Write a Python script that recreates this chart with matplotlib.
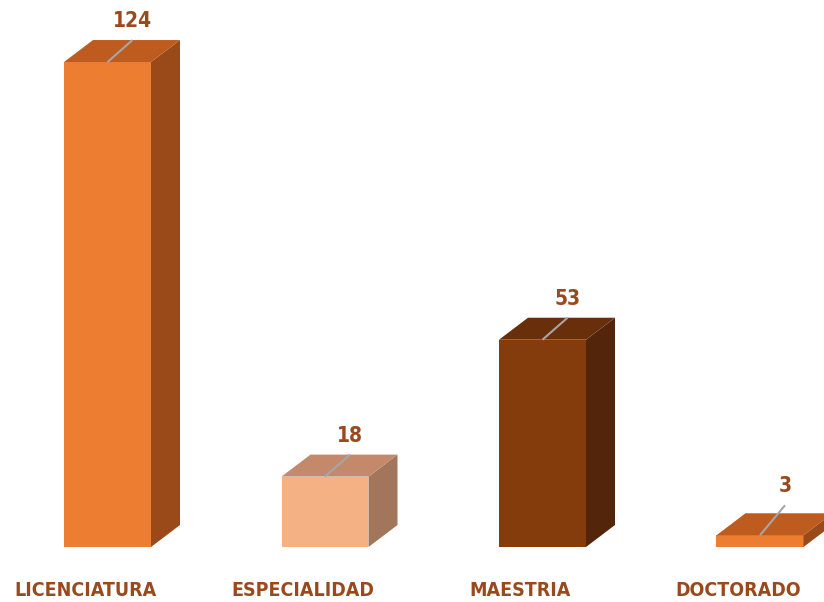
import matplotlib
matplotlib.use("Agg")
import matplotlib.pyplot as plt
from matplotlib.patches import Polygon

categories = ["LICENCIATURA", "ESPECIALIDAD", "MAESTRIA", "DOCTORADO"]
values = [124, 18, 53, 3]
front_colors = ["#ED7D31", "#F4B183", "#843C0C", "#ED7D31"]
top_colors = ["#BE5B1F", "#C4896A", "#692F0B", "#BE5B1F"]
side_colors = ["#9A4A19", "#A1765A", "#53250A", "#9A4A19"]

W, H = 824, 602
fig = plt.figure(figsize=(W / 100, H / 100), dpi=100)
ax = fig.add_axes([0, 0, 1, 1])
sx = 217.5  # px per category unit
sy = 3.911  # px per value unit
x0 = -107.5 / sx
y0 = -55 / sy
ax.set_xlim(x0, x0 + W / sx)
ax.set_ylim(y0, y0 + H / sy)
ax.axis("off")

bw = 87 / sx
dx = 29 / sx
dy = 22 / sy
text_col = "#9A491D"
fam = ["DejaVu Sans"]

for i, (v, fc, tc, sc) in enumerate(zip(values, front_colors, top_colors, side_colors)):
    l, r = i - bw / 2, i + bw / 2
    ax.add_patch(Polygon([(l, 0), (r, 0), (r, v), (l, v)], closed=True, fc=fc, ec="none"))
    ax.add_patch(Polygon([(r, 0), (r + dx, dy), (r + dx, v + dy), (r, v)], closed=True, fc=sc, ec="none"))
    ax.add_patch(Polygon([(l, v), (r, v), (r + dx, v + dy), (l + dx, v + dy)], closed=True, fc=tc, ec="none"))
    # leader line
    lx0, ly0 = i, v
    lx1 = i + 25 / sx
    ly1 = v + (dy if v > 5 else 30 / sy)
    ax.plot([lx0, lx1], [ly0, ly1], color="#A6A6A6", lw=1.5, solid_capstyle="butt")
    ax.text(lx1, ly1 + 9 / sy, str(v), ha="center", va="bottom", fontsize=15,
            fontweight="bold", color=text_col, family=fam, fontstretch="condensed")
    ax.text(i - 22 / sx, -43 / sy, categories[i], ha="center", va="center", fontsize=14,
            fontweight="bold", color=text_col, family=fam, fontstretch="condensed")

fig.savefig("out.png", dpi=100)
